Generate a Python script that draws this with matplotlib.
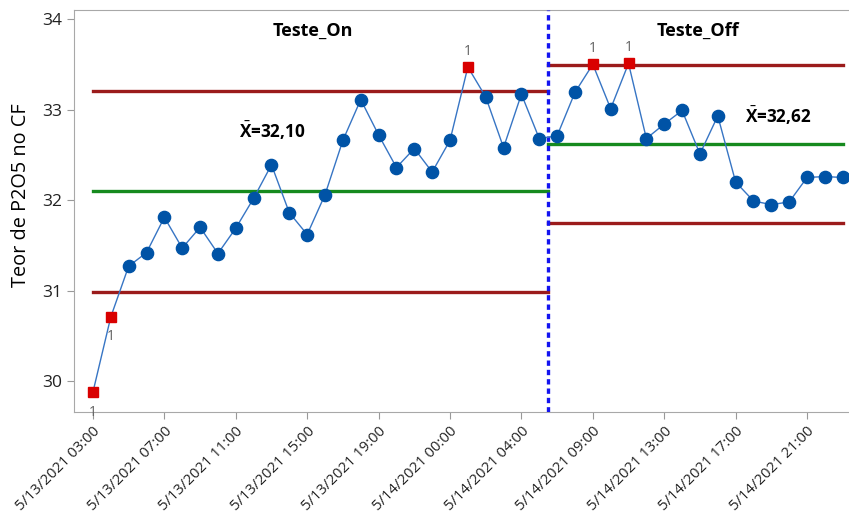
import matplotlib
matplotlib.use("Agg")
import matplotlib.pyplot as plt
import numpy as np

plt.rcParams['font.family'] = ['Open Sans', 'DejaVu Sans']
plt.rcParams['mathtext.fontset'] = 'custom'
plt.rcParams['mathtext.rm'] = 'Open Sans'
plt.rcParams['mathtext.bf'] = 'Open Sans:bold'

# Teor de P2O5 por amostra, duas fases
stage_on = [29.88, 30.71, 31.27, 31.42, 31.81, 31.47, 31.70, 31.41, 31.69, 32.02,
            32.39, 31.86, 31.62, 32.06, 32.66, 33.11, 32.72, 32.36, 32.57, 32.31,
            32.66, 33.47, 33.14, 32.58, 33.17, 32.68]
stage_off = [32.71, 33.19, 33.50, 33.01, 33.51, 32.68, 32.84, 32.99, 32.51, 32.93,
             32.20, 31.99, 31.95, 31.98, 32.25, 32.26, 32.25]

stage_names = ['Teste_On', 'Teste_Off']
means = [32.10, 32.62]
ucls = [33.21, 33.49]
lcls = [30.99, 31.75]

tick_labels = ['5/13/2021 03:00', '5/13/2021 07:00', '5/13/2021 11:00',
               '5/13/2021 15:00', '5/13/2021 19:00', '5/14/2021 00:00',
               '5/14/2021 04:00', '5/14/2021 09:00', '5/14/2021 13:00',
               '5/14/2021 17:00', '5/14/2021 21:00']

values = np.array(stage_on + stage_off)
idx = np.arange(len(values))
n_on = len(stage_on)
split = n_on - 0.5

# pontos fora de controle
out = np.zeros(len(values), dtype=bool)
for i, v in enumerate(values):
    s = 0 if i < n_on else 1
    out[i] = v > ucls[s] or v < lcls[s]

fig = plt.figure(figsize=(8.49, 5.13), dpi=100)
ax = fig.add_axes([0.0872, 0.197, 0.9128, 0.7835])

# limites por fase
bounds = [(0, split), (split, len(values) - 1)]
for s in range(2):
    x0, x1 = bounds[s]
    ax.plot([x0, x1], [ucls[s], ucls[s]], color='#9b1b1b', lw=2.4, zorder=2)
    ax.plot([x0, x1], [lcls[s], lcls[s]], color='#9b1b1b', lw=2.4, zorder=2)
    ax.plot([x0, x1], [means[s], means[s]], color='#168a1e', lw=2.4, zorder=2)

ax.axvline(split, color='#1414f0', lw=2.4, linestyle=(0, (1.6, 1.2)), zorder=3)

ax.plot(idx, values, color='#3775c4', lw=1.0, zorder=4)
ax.plot(idx[~out], values[~out], 'o', color='#0053a6', markersize=8.8, zorder=5)
ax.plot(idx[out], values[out], 's', color='#d90000', markersize=7, zorder=5)

for i in idx[out]:
    s = 0 if i < n_on else 1
    if values[i] < lcls[s]:
        ax.annotate('1', (i, values[i]), xytext=(0, -9), textcoords='offset points',
                    ha='center', va='top', fontsize=10, color='#606060')
    else:
        ax.annotate('1', (i, values[i]), xytext=(0, 6), textcoords='offset points',
                    ha='center', va='bottom', fontsize=10, color='#606060')

ax.text(12.3, 33.87, stage_names[0], ha='center', va='center', fontsize=13, fontweight='bold')
ax.text(33.9, 33.87, stage_names[1], ha='center', va='center', fontsize=13, fontweight='bold')
ax.text(8.2, 32.77, r'$\bar{\mathbf{X}}$=' + f'{means[0]:.2f}'.replace('.', ','),
        ha='left', va='center', fontsize=12.3, fontweight='bold')
ax.text(36.5, 32.93, r'$\bar{\mathbf{X}}$=' + f'{means[1]:.2f}'.replace('.', ','),
        ha='left', va='center', fontsize=12.3, fontweight='bold')

ax.set_xlim(-1.06, 42.35)
ax.set_ylim(29.66, 34.1)
ax.set_yticks([30, 31, 32, 33, 34])
ax.set_xticks(np.arange(0, len(values), 4))
ax.set_xticklabels(tick_labels, rotation=45, ha='right', rotation_mode='anchor', fontsize=10.7)
ax.tick_params(axis='y', labelsize=12.5, length=5, color='#999999', labelcolor='#222222')
ax.tick_params(axis='x', length=5, color='#999999', labelcolor='#222222')
ax.set_ylabel('Teor de P2O5 no CF', fontsize=14.3)
ax.yaxis.set_label_coords(-0.056, 0.54)

for side in ['left', 'bottom', 'top']:
    ax.spines[side].set_color('#a8a8a8')
ax.spines['right'].set_visible(False)

fig.savefig('out.png', dpi=100)
